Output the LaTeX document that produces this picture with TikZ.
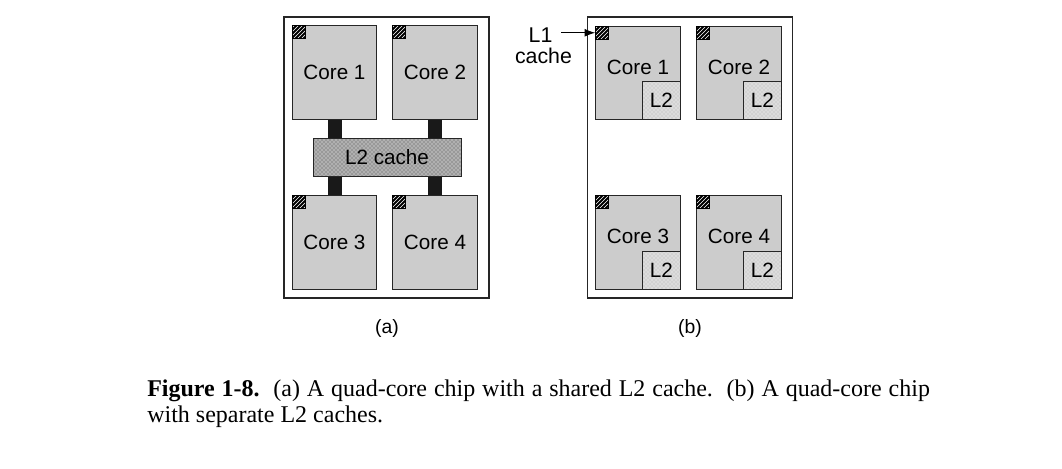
\documentclass[tikz,border=0pt]{standalone}
\usepackage{fontspec}
\setmainfont{Liberation Serif}
\setsansfont{Liberation Sans}
\usetikzlibrary{patterns,arrows.meta}
\tikzstyle{frame}=[draw=black!85, line width=0.8pt, inner sep=0, minimum width=153.75pt, minimum height=210.75pt]
\tikzstyle{core}=[%
	draw=black!85, line width=0.7pt, fill=gray!40, inner sep=0,
	minimum width=63.5pt, minimum height=70pt,
	font=\sffamily\fontsize{15.5}{18}\selectfont
]
\tikzstyle{lone}=[%
	draw=black, line width=0.6pt, preaction={fill=black}, pattern=north east lines,
	pattern color=white, inner sep=0, minimum size=9.75pt, anchor=north west
]
\tikzstyle{shared}=[%
	draw=black!85, line width=0.7pt, preaction={fill=gray!80}, pattern=crosshatch dots,
	pattern color=white, inner sep=0, minimum width=111pt, minimum height=28.5pt,
	font=\sffamily\fontsize{15.5}{18}\selectfont
]
\tikzstyle{ltwo}=[%
	draw=black!85, line width=0.7pt, preaction={fill=gray!35}, pattern=crosshatch dots,
	pattern color=white, inner sep=0, minimum size=28.5pt, anchor=south east,
	font=\sffamily\fontsize{15.5}{18}\selectfont
]
\tikzstyle{bus}=[line width=10.5pt, black!90]
\tikzstyle{tag}=[font=\sffamily\fontsize{16}{18}\selectfont]

\begin{document}
\begin{tikzpicture}[x=0.75pt, y=-0.75pt]
	\useasboundingbox (0,0) rectangle (1062,468);

	\node[frame] (chipa) at (386.5,157.5) {};
	\node[frame] (chipb) at (690,157.5) {};

	\foreach \n/\x/\y in {1/334.5/72.5, 2/435/72.5, 3/334.5/242.5, 4/435/242.5} {
		\node[core] (a\n) at (\x,\y) {Core \n};
		\node[lone] (al\n) at (a\n.north west) {};
	};
	\draw[bus] (a1.south) -- (a3.north);
	\draw[bus] (a2.south) -- (a4.north);
	\node[shared] (l2) at (387,157) {L2 cache};

	\foreach \n/\x/\y in {1/638/73, 2/739/73, 3/638/242.5, 4/739/242.5} {
		\node[core, label={[yshift=4.5pt, font=\sffamily\fontsize{15.5}{18}\selectfont]center:Core \n}] (b\n) at (\x,\y) {};
		\node[lone] (bl\n) at (b\n.north west) {};
		\node[ltwo] (bc\n) at (b\n.south east) {L2};
	};

	\node[tag] (l1txt) at (540.5,35) {L1};
	\node[tag] (cachetxt) at (543.5,56) {cache};
	\draw[-{Latex[length=8pt,width=6pt]}, line width=0.7pt, shorten <=3pt] (l1txt.east |- bl1.west) -- (bl1.west);

	\node[tag, font=\sffamily\fontsize{14.5}{17}\selectfont] (capa) at (387,328) {(a)};
	\node[tag, font=\sffamily\fontsize{14.5}{17}\selectfont] (capb) at (690,328) {(b)};

	\node[anchor=north west, text width=587pt, align=justify, inner sep=0,
		font=\fontsize{18}{19.5}\selectfont] (fig) at (147,380)
		{\textbf{Figure 1-8.}\ \ (a) A quad-core chip with a shared L2 cache.\ \ (b) A quad-core chip\linebreak with separate L2 caches.};
\end{tikzpicture}
\end{document}
